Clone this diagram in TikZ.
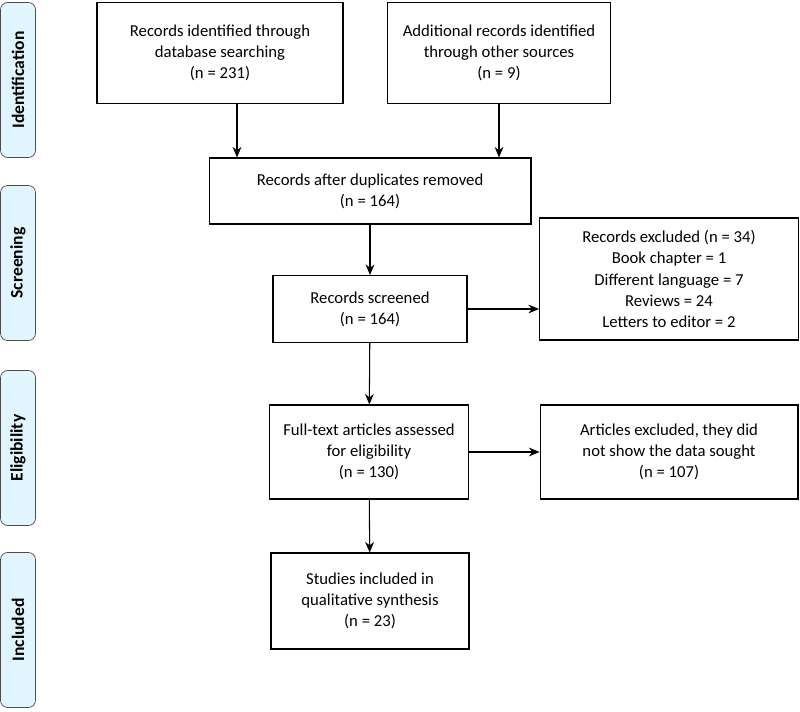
\documentclass[tikz,border=0pt]{standalone}
\usepackage{fontspec}
\setmainfont{Carlito}
\usetikzlibrary{positioning,arrows.meta}
\begin{document}
\begin{tikzpicture}[
    x=0.02cm, y=-0.02cm,
    box/.style={draw, line width=0.6pt, align=center, inner sep=2pt},
    phase/.style={draw=black!70, rounded corners=4pt, fill=cyan!12, minimum width=3.1cm, minimum height=0.7cm, rotate=90, font=\bfseries\fontsize{10}{12}\selectfont},
    arr/.style={-{Stealth[length=6pt,width=5pt]}, line width=0.6pt},
    font=\fontsize{9.5}{12}\selectfont
    ]
    \useasboundingbox (0,0) rectangle (800,712);

    % phases
    \node (pid) at (18,80) [phase] {Identification};
    \node (psc) at (18,263) [phase] {Screening};
    \node (pel) at (18,448) [phase] {Eligibility};
    \node (pin) at (18,630) [phase] {Included};

    % boxes
    \node (rid) at (220,53) [box, minimum width=4.92cm, minimum height=2.02cm] {Records identified through\\database searching\\(n = 231)};
    \node (add) at (499,53) [box, minimum width=4.46cm, minimum height=2.02cm] {Additional records identified\\through other sources\\(n = 9)};
    \node (dup) at (370,191) [box, minimum width=6.44cm, minimum height=1.32cm] {Records after duplicates removed\\(n = 164)};
    \node (scr) at (370,309) [box, minimum width=3.88cm, minimum height=1.34cm] {Records screened\\(n = 164)};
    \node (exc) at (669,279) [box, minimum width=5.18cm, minimum height=2.44cm] {Records excluded (n = 34)\\Book chapter = 1\\Different language = 7\\Reviews = 24\\Letters to editor = 2};
    \node (ful) at (369,452) [box, minimum width=3.98cm, minimum height=1.88cm] {Full-text articles assessed\\for eligibility\\(n = 130)};
    \node (aex) at (669,452) [box, minimum width=5.16cm, minimum height=1.88cm] {Articles excluded, they did\\not show the data sought\\(n = 107)};
    \node (inc) at (370,601) [box, minimum width=3.96cm, minimum height=1.92cm] {Studies included in\\qualitative synthesis\\(n = 23)};

    % connections
    \draw[arr] ([xshift=0.34cm]rid.south) -- ([xshift=0.34cm]rid.south |- dup.north);
    \draw[arr] (add.south) -- (add.south |- dup.north);
    \draw[arr] (dup) -- (scr);
    \draw[arr] (scr.east) -- (scr.east -| exc.west);
    \draw[arr] (scr) -- (ful);
    \draw[arr] (ful) -- (aex);
    \draw[arr] (ful) -- (inc);
\end{tikzpicture}
\end{document}
